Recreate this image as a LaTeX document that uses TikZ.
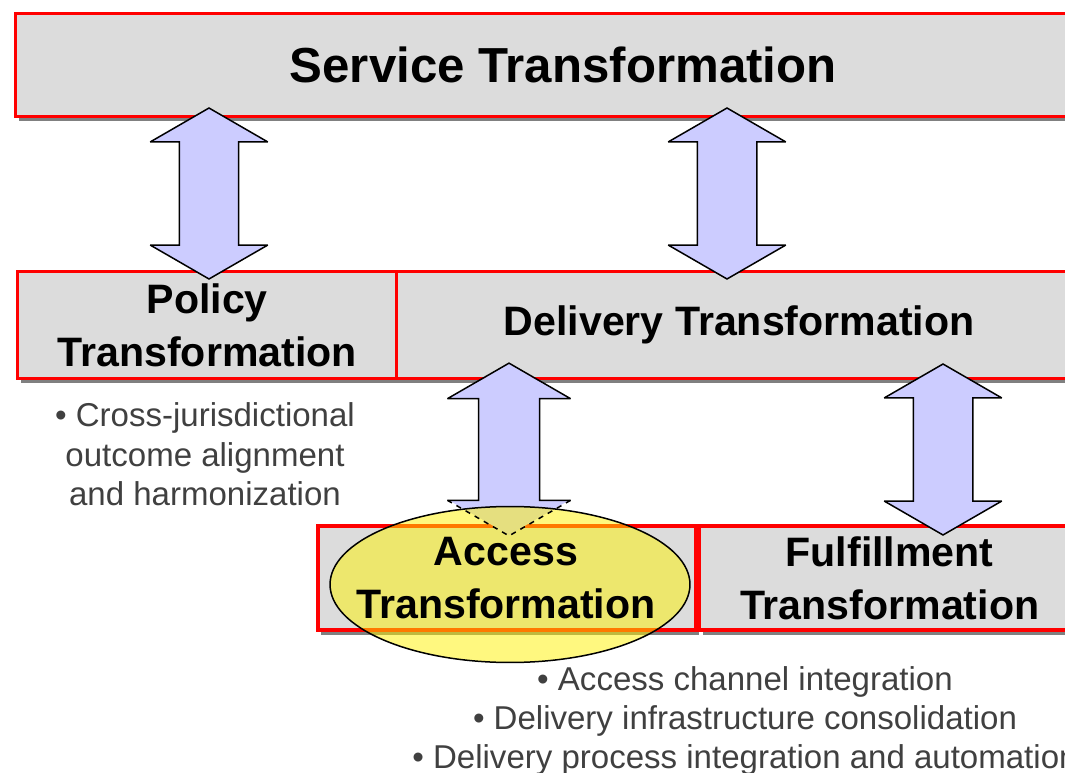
\documentclass[tikz,border=0pt]{standalone}
\usepackage{fontspec}
\setmainfont{Liberation Sans}
\usetikzlibrary{positioning,shapes.geometric,shapes.arrows,shadows}
\definecolor{boxgray}{HTML}{DCDCDC}
\definecolor{arrowblue}{HTML}{CCCCFF}
\tikzset{
  x=.02cm,y=-.02cm,
  layerbox/.style={draw=red,line width=.07cm,fill=boxgray,inner sep=0,align=center,anchor=north west,
    font=\bfseries\fontsize{23.4}{30}\selectfont,
    drop shadow={shadow xshift=.06cm,shadow yshift=-.09cm,opacity=1,fill=gray}},
  updown/.style={shape=double arrow,rotate=90,fill=arrowblue,inner sep=0,inner ysep=.58cm,inner xsep=0,line width=.03cm,miter limit=1.5,
    double arrow head extend=.58cm,double arrow tip angle=120,minimum width=2.32cm},
  bullets/.style={align=center,font=\fontsize{18.8}{22.4}\selectfont,text=black!75,inner sep=0},
}
\begin{document}
\begin{tikzpicture}
    \useasboundingbox (0,0) rectangle (1065,773);
    \clip (0,0) rectangle (1065,773);
    \node[layerbox,minimum width=21.9cm,minimum height=2.06cm,font=\bfseries\fontsize{28}{30}\selectfont] (service) at (14,12) {Service Transformation};
    \node[layerbox,minimum width=7.58cm,minimum height=2.14cm] (policy) at (16,270) {Policy\\Transformation};
    \node[layerbox,minimum width=13.7cm,minimum height=2.14cm,right=-.07cm of policy] (delivery) {Delivery Transformation};
    \node[layerbox,minimum width=7.57cm,minimum height=2.09cm] (access) at (316,524) {};
    \node[layerbox,minimum width=7.6cm,minimum height=2.09cm,right=0pt of access] (fulfil) {Fulfillment\\Transformation};
    \node[updown,draw,minimum height=3.42cm] (a1) at (209,193.5) {};
    \node[updown,draw,minimum height=3.42cm] (a2) at (727,193.5) {};
    \node[updown,minimum height=3.42cm] (a3) at (509,449.5) {};
    \node[updown,draw,minimum height=3.42cm] (a4) at (943,449.5) {};
    \node[ellipse,fill=yellow,fill opacity=.5,draw,draw opacity=1,line width=.03cm,minimum width=7.2cm,minimum height=3.12cm,inner sep=0] (focus) at (510,584.5) {};
    \draw[line width=.03cm,miter limit=1.5] (a3.after tip 2) -- (a3.after head 2) -- (a3.before head 1) -- (a3.before tip 1) -- (a3.tip 1) -- (a3.after tip 1) -- (a3.after head 1) -- (a3.before head 2) -- (a3.before tip 2);
    \draw[dashed,line width=.03cm] (a3.before tip 2) -- (a3.tip 2) -- (a3.after tip 2);
    \node[align=center,inner sep=0,font=\bfseries\fontsize{23.4}{30}\selectfont] (accesslabel) at (506,578) {Access\\Transformation};
    \node[bullets] (policynotes) at (205,454.5) {• Cross-jurisdictional\\outcome alignment\\and harmonization};
    \node[bullets] (accessnotes) at (745,721) {• Access channel integration\\• Delivery infrastructure consolidation\\• Delivery process integration and automation};
\end{tikzpicture}
\end{document}
